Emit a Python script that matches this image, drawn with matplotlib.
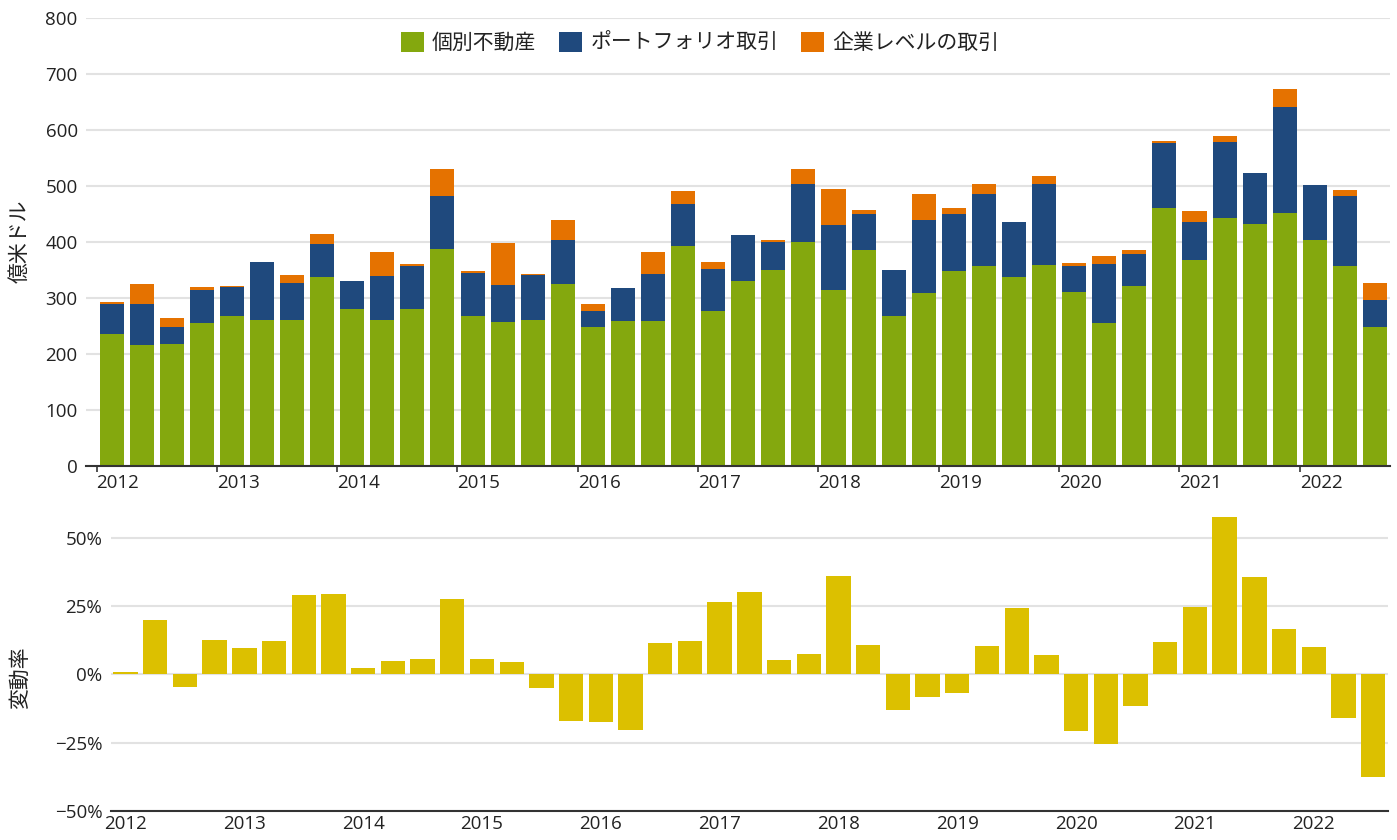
import numpy as np
import matplotlib
matplotlib.use("Agg")
import matplotlib.pyplot as plt
from matplotlib.ticker import FuncFormatter, FixedLocator

plt.rcParams['font.family'] = ['Open Sans', 'Noto Sans CJK JP', 'DejaVu Sans']

# ===== DATA =====
years = [str(y) for y in range(2012, 2023)]

# 2012Q1 .. 2022Q3 (億米ドル)
individual = [236, 215, 217, 255, 267, 260, 261, 337, 280, 260, 279, 387,
              268, 256, 261, 325, 248, 258, 258, 392, 277, 329, 349, 399,
              313, 386, 267, 308, 348, 356, 337, 358, 311, 255, 321, 460,
              368, 442, 432, 451, 403, 356, 248]
portfolio = [52, 74, 31, 58, 52, 103, 65, 59, 49, 79, 77, 95,
             76, 67, 79, 78, 28, 59, 84, 76, 74, 83, 50, 104,
             117, 64, 83, 131, 101, 130, 99, 145, 46, 105, 57, 117,
             67, 136, 90, 189, 98, 126, 48]
entity = [5, 35, 16, 6, 2, 0, 14, 18, 0, 42, 4, 47,
          4, 75, 2, 35, 12, 0, 40, 23, 12, 0, 4, 26,
          64, 7, 0, 46, 11, 17, 0, 14, 5, 15, 8, 2,
          19, 10, 0, 33, 0, 10, 30]

# 変動率 (%)
change = [0.7, 19.9, -4.5, 12.5, 9.6, 12.2, 29.1, 29.4, 2.3, 4.8, 5.6, 27.6,
          5.6, 4.4, -4.8, -17.0, -17.3, -20.4, 11.5, 12.2, 26.4, 30.0, 5.4, 7.4,
          35.9, 10.6, -13.1, -8.2, -6.7, 10.4, 24.3, 7.0, -20.6, -25.6, -11.5, 11.8,
          24.8, 57.5, 35.6, 16.5, 10.0, -16.1, -37.6]

labels = ["個別不動産", "ポートフォリオ取引", "企業レベルの取引"]
colors = ["#84A80E", "#1F497D", "#E57200"]
change_color = "#DCC000"

x = np.arange(len(individual))
individual = np.array(individual)
portfolio = np.array(portfolio)
entity = np.array(entity)

# ===== FIGURE =====
fig = plt.figure(figsize=(13.97, 8.4), dpi=100)
W, H = 1397, 840
ax1 = fig.add_axes([86 / W, 1 - 465.7 / H, (1390 - 86) / W, (465.7 - 17.7) / H])
ax2 = fig.add_axes([110.7 / W, 1 - 811 / H, (1388 - 110.7) / W, (811 - 510.5) / H])

text_color = "#222222"
grid_color = "#E2E2E2"

# ===== TOP: STACKED BARS =====
ax1.bar(x, individual, width=0.8, color=colors[0], label=labels[0], zorder=2)
ax1.bar(x, portfolio, width=0.8, bottom=individual, color=colors[1], label=labels[1], zorder=2)
ax1.bar(x, entity, width=0.8, bottom=individual + portfolio, color=colors[2], label=labels[2], zorder=2)

ax1.set_xlim(-0.85, 42.5)
ax1.set_ylim(0, 800)
ax1.set_yticks(range(0, 801, 100))
ax1.yaxis.grid(True, color=grid_color, linewidth=1.5, zorder=0)
ax1.set_axisbelow(True)
ax1.set_xticks(np.arange(0, len(x), 4) - 0.5)
ax1.set_xticklabels(years, ha="left")
ax1.tick_params(axis="x", length=4, width=1.2, color="#333333", pad=2)
ax1.tick_params(axis="y", length=0, pad=6)
ax1.tick_params(labelsize=13.5, labelcolor=text_color)
for s in ["top", "right", "left"]:
    ax1.spines[s].set_visible(False)
ax1.spines["bottom"].set_color("#333333")
ax1.spines["bottom"].set_linewidth(1.5)

# ===== BOTTOM: CHANGE RATE =====
ax2.bar(x, change, width=0.82, color=change_color, zorder=2)
ax2.set_xlim(-0.5, 42.5)
ax2.set_ylim(-50, 60)
ax2.yaxis.set_major_locator(FixedLocator([-50, -25, 0, 25, 50]))
ax2.yaxis.set_major_formatter(FuncFormatter(lambda v, p: f"{int(v)}%".replace("-", "\u2212")))
ax2.yaxis.grid(True, color=grid_color, linewidth=1.5, zorder=0)
ax2.set_axisbelow(True)
ax2.set_xticks(np.arange(0, len(x), 4))
ax2.set_xticklabels(years)
ax2.tick_params(axis="x", length=0, pad=3)
ax2.tick_params(axis="y", length=0, pad=6)
ax2.tick_params(labelsize=13.5, labelcolor=text_color)
for s in ["top", "right", "left"]:
    ax2.spines[s].set_visible(False)
ax2.spines["bottom"].set_color("#333333")
ax2.spines["bottom"].set_linewidth(1.5)

# ===== LABELS / LEGEND =====
fig.text(20 / W, 1 - 241 / H, "億米ドル", rotation=90, ha="center", va="center",
         fontsize=15, color=text_color)
fig.text(20 / W, 1 - 678 / H, "変動率", rotation=90, ha="center", va="center",
         fontsize=15, color=text_color)

fig.legend(loc="center", bbox_to_anchor=(700 / W, 1 - 43 / H), ncol=3, frameon=False,
           fontsize=15, handlelength=1.1, handleheight=1.1, handletextpad=0.4,
           columnspacing=1.1, labelcolor=text_color)

fig.savefig("out.png", dpi=100)
